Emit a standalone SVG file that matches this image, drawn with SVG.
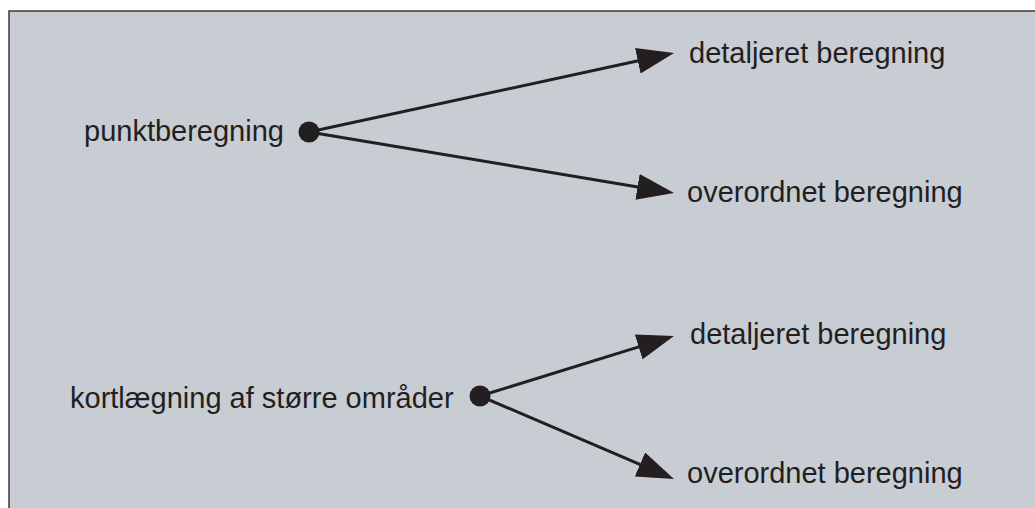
<svg xmlns="http://www.w3.org/2000/svg" width="1035" height="508" viewBox="0 0 1035 508">
<style>
.t{font-family:"Liberation Sans",Arial,sans-serif;font-size:29px;fill:#231f20}
.c{stroke:#231f20;stroke-width:3;fill:none}
.d{fill:#231f20}
</style>
<defs>
<marker id="ah" markerUnits="userSpaceOnUse" markerWidth="38" markerHeight="26" refX="17" refY="13" orient="auto" viewBox="0 0 38 26">
<path d="M0,0 L37,13 L0,26 z" fill="#231f20"/>
</marker>
</defs>
<rect x="0" y="0" width="1035" height="508" fill="#ffffff"/>
<rect id="frame" x="9" y="11" width="1040" height="510" fill="#c8ccd3" stroke="#3a3a3a" stroke-width="1.5"/>
<g id="connectors">
<line class="c" x1="309" y1="132" x2="654.45" y2="57.23" marker-end="url(#ah)"/>
<line class="c" x1="309" y1="132" x2="654.27" y2="189.7" marker-end="url(#ah)"/>
<line class="c" x1="480" y1="396" x2="654.9" y2="341.9" marker-end="url(#ah)"/>
<line class="c" x1="480" y1="396" x2="655.6" y2="471.1" marker-end="url(#ah)"/>
</g>
<g id="n-punkt">
<text class="t" x="84" y="141">punktberegning</text>
<circle class="d" cx="309" cy="132" r="10.5"/>
</g>
<g id="n-det1"><text class="t" x="689" y="63">detaljeret beregning</text></g>
<g id="n-over1"><text class="t" x="687" y="202">overordnet beregning</text></g>
<g id="n-kort">
<text class="t" x="70" y="408">kortlægning af større områder</text>
<circle class="d" cx="480" cy="396" r="10.5"/>
</g>
<g id="n-det2"><text class="t" x="690" y="344">detaljeret beregning</text></g>
<g id="n-over2"><text class="t" x="687" y="483">overordnet beregning</text></g>
</svg>
